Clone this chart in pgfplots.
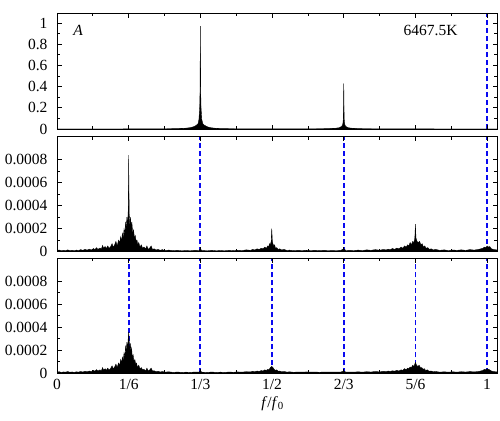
\documentclass[border=0pt]{standalone}
\usepackage{fontspec}
\setmainfont{Liberation Serif}
\usepackage{pgfplots}
\pgfplotsset{compat=1.18}
\definecolor{dblue}{RGB}{10,10,240}
\pgfplotsset{
  panel/.style={
    scale only axis, width=440pt,
    xmin=0, xmax=1.023,
    xtick={0,0.16667,0.33333,0.5,0.66667,0.83333,1},
    minor xtick={0.08333,0.25,0.41667,0.58333,0.75,0.91667},
    xticklabels={},
    minor y tick num=1,
    axis on top=true,
    axis line style={line width=0.9pt},
    every tick/.style={line width=0.7pt, black},
    major tick length=4.5pt, minor tick length=3pt,
    tick label style={font=\fontsize{15.5}{16}\selectfont},
    /pgf/number format/assume math mode=true,
    yticklabel style={xshift=-6pt},
    xticklabel style={yshift=-2pt},
    scaled y ticks=false,
    unbounded coords=jump,
    clip=true,
  },
  vline/.style={draw=dblue, color=dblue, line width=1.75pt, dash pattern=on 5pt off 3pt},
  spec/.style={fill=black, draw=black, line width=0.35pt},
}
\begin{document}
\begin{tikzpicture}
\path (0pt,0pt) rectangle (500pt,-420pt);
% ---------------- top panel
\begin{axis}[panel, at={(57pt,-129pt)}, anchor=south west, height=116pt,
  ymin=0, ymax=1.095, ytick={0,0.2,0.4,0.6,0.8,1},
  yticklabels={0,0.2,0.4,0.6,0.8,1}]
\addplot[vline] coordinates {(1,0) (1,1.095)};
\addplot[spec] coordinates {
(0,0.0002) (0.1,0.0004) (0.2,0.001) (0.25,0.002) (0.28,0.004) (0.3,0.008)
(0.31,0.013) (0.318,0.022) (0.324,0.035) (0.328,0.05) (0.3300,0.09)
(0.3317,0.2) (0.3325,0.35) (0.3333,0.97) (0.3341,0.35) (0.3349,0.2)
(0.3366,0.09) (0.339,0.05) (0.343,0.035) (0.349,0.022) (0.356,0.013)
(0.366,0.008) (0.38,0.004) (0.42,0.002) (0.5,0.001) (0.58,0.0015)
(0.62,0.003) (0.645,0.006) (0.656,0.012) (0.662,0.025) (0.6645,0.045)
(0.6658,0.1) (0.6667,0.43) (0.6676,0.1) (0.6689,0.045) (0.671,0.025)
(0.677,0.012) (0.688,0.006) (0.71,0.003) (0.76,0.0015) (0.85,0.0008)
(1.023,0.0003)} \closedcycle;
\node[font=\fontsize{15.5}{16}\selectfont\itshape] at (rel axis cs:0.048,0.85) {A};
\node[font=\fontsize{15.5}{16}\selectfont] at (rel axis cs:0.849,0.847) {6467.5K};
\end{axis}
% ---------------- middle panel
\begin{axis}[panel, at={(57pt,-251.7pt)}, anchor=south west, height=115pt,
  ymin=0, ymax=0.001, ytick={0,0.0002,0.0004,0.0006,0.0008},
  yticklabels={0,0.0002,0.0004,0.0006,0.0008}]
\addplot[vline] coordinates {(0.33333,0) (0.33333,0.001) (0.5,nan)
  (0.66667,0) (0.66667,0.001) (0.8,nan) (1,0) (1,0.001)};
\addplot[spec] coordinates {
(0,0.00001) (0.005,0.000015) (0.01,0.000008) (0.015,0.000012) (0.02,0.00001)
(0.025,0.000016) (0.03,0.000009) (0.035,0.000013) (0.04,0.000008) (0.045,0.000014)
(0.05,0.00001) (0.055,0.000018) (0.06,0.000012) (0.065,0.00002) (0.07,0.000014)
(0.075,0.000022) (0.08,0.000015) (0.085,0.000028) (0.088,0.000018) (0.092,0.000035)
(0.095,0.00002) (0.1,0.000032) (0.103,0.000022) (0.106,0.000055) (0.108,0.00003)
(0.112,0.000045) (0.115,0.000028) (0.118,0.00005) (0.121,0.00003) (0.124,0.00004)
(0.128,0.00007) (0.131,0.00004) (0.134,0.00006) (0.137,0.00009) (0.14,0.00005)
(0.143,0.0001) (0.146,0.00008) (0.148,0.00013) (0.150,0.00009) (0.152,0.00016)
(0.154,0.00012) (0.156,0.0002) (0.158,0.00015) (0.1595,0.00026) (0.161,0.0002)
(0.1625,0.0003) (0.164,0.00022) (0.1655,0.00035) (0.1663,0.0006) (0.1667,0.00084)
(0.1671,0.0006) (0.168,0.00032) (0.1695,0.00022) (0.171,0.0003) (0.1725,0.0002)
(0.174,0.00026) (0.176,0.00016) (0.178,0.00019) (0.18,0.00012) (0.182,0.00014)
(0.184,0.00009) (0.186,0.0001) (0.188,0.00006) (0.19,0.00008) (0.193,0.00004)
(0.196,0.00006) (0.199,0.00003) (0.202,0.00004) (0.206,0.000025) (0.209,0.00005)
(0.212,0.00002) (0.215,0.00003) (0.219,0.00005) (0.222,0.00002) (0.226,0.000025)
(0.23,0.000015) (0.235,0.00002) (0.24,0.000012) (0.245,0.000018) (0.25,0.00001)
(0.26,0.000014) (0.27,0.000009) (0.28,0.000012) (0.29,0.000008) (0.3,0.00001)
(0.31,0.000008) (0.32,0.000012) (0.33,0.00001) (0.3333,0.000025) (0.337,0.00001)
(0.35,0.000008) (0.36,0.000012) (0.37,0.000008) (0.38,0.00001) (0.39,0.000008)
(0.4,0.000012) (0.41,0.000009) (0.42,0.000013) (0.43,0.00001) (0.44,0.000016)
(0.45,0.000012) (0.455,0.00002) (0.46,0.000015) (0.465,0.000025) (0.47,0.00002)
(0.475,0.00003) (0.479,0.000025) (0.483,0.00004) (0.487,0.00003) (0.49,0.00005)
(0.492,0.00004) (0.494,0.00007) (0.496,0.00006) (0.498,0.00009) (0.4993,0.0002)
(0.5007,0.00009) (0.502,0.00007) (0.504,0.00005) (0.506,0.00006) (0.508,0.00003)
(0.511,0.000035) (0.514,0.00002) (0.518,0.000025) (0.522,0.000015) (0.528,0.00002)
(0.535,0.00001) (0.54,0.000014) (0.55,0.000009) (0.56,0.000012) (0.57,0.00001)
(0.58,0.000013) (0.59,0.00001) (0.6,0.000012) (0.61,0.000009) (0.62,0.000012)
(0.63,0.00001) (0.64,0.000011) (0.65,0.00001) (0.66,0.000012) (0.6667,0.000025)
(0.672,0.00001) (0.68,0.000012) (0.69,0.00001) (0.7,0.000014) (0.71,0.00001)
(0.72,0.000016) (0.73,0.000012) (0.74,0.000018) (0.75,0.000013) (0.76,0.00002)
(0.765,0.000015) (0.77,0.000022) (0.775,0.000018) (0.78,0.000028) (0.785,0.00002)
(0.79,0.000032) (0.795,0.000025) (0.8,0.00004) (0.804,0.00003) (0.808,0.00005)
(0.812,0.00004) (0.815,0.00006) (0.818,0.00005) (0.821,0.00008) (0.824,0.00006)
(0.827,0.00009) (0.83,0.00008) (0.832,0.00012) (0.8333,0.00024) (0.8346,0.00012)
(0.837,0.00009) (0.84,0.00008) (0.843,0.00009) (0.846,0.00006) (0.849,0.00007)
(0.852,0.00004) (0.855,0.00005) (0.858,0.00003) (0.862,0.000035) (0.866,0.00002)
(0.87,0.000025) (0.875,0.000015) (0.88,0.00002) (0.89,0.000012) (0.9,0.000016)
(0.91,0.00001) (0.92,0.000015) (0.93,0.000012) (0.94,0.000016) (0.95,0.000012)
(0.96,0.000018) (0.97,0.000014) (0.98,0.00002) (0.985,0.000025) (0.99,0.00003)
(0.994,0.00004) (0.997,0.000035) (1.0,0.00005) (1.003,0.00004) (1.006,0.000045)
(1.01,0.000025) (1.015,0.00002) (1.023,0.000015)} \closedcycle;
\end{axis}
% ---------------- bottom panel
\begin{axis}[panel, at={(57pt,-373.3pt)}, anchor=south west, height=115pt,
  ymin=0, ymax=0.001, ytick={0,0.0002,0.0004,0.0006,0.0008},
  yticklabels={0,0.0002,0.0004,0.0006,0.0008},
  xticklabels={0,1/6,1/3,1/2,2/3,5/6,1},
  xlabel={\textit{f}/\textit{f}\textsubscript{0}},
  xlabel style={at={(rel axis cs:0.49,0)}, anchor=center, yshift=-30pt,
    font=\fontsize{15.5}{16}\selectfont}]
\addplot[vline] coordinates {(0.16667,0) (0.16667,0.001) (0.2,nan)
  (0.33333,0) (0.33333,0.001) (0.4,nan) (0.5,0) (0.5,0.001) (0.6,nan)
  (0.66667,0) (0.66667,0.001) (0.7,nan) (0.83333,0) (0.83333,0.001) (0.9,nan)
  (1,0) (1,0.001)};
\addplot[spec] coordinates {
(0,0.00001) (0.005,0.000014) (0.01,0.000008) (0.015,0.000012) (0.02,0.00001)
(0.025,0.000015) (0.03,0.000009) (0.035,0.000012) (0.04,0.000008) (0.045,0.000013)
(0.05,0.00001) (0.055,0.000016) (0.06,0.000011) (0.065,0.000018) (0.07,0.000013)
(0.075,0.00002) (0.08,0.000014) (0.085,0.000026) (0.088,0.000017) (0.092,0.000032)
(0.095,0.00002) (0.1,0.00003) (0.103,0.00002) (0.106,0.00005) (0.108,0.000028)
(0.112,0.00004) (0.115,0.000026) (0.118,0.000045) (0.121,0.000028) (0.124,0.000038)
(0.128,0.000065) (0.131,0.00004) (0.134,0.000055) (0.137,0.00008) (0.14,0.00005)
(0.143,0.00009) (0.146,0.00007) (0.148,0.00012) (0.15,0.00009) (0.152,0.00014)
(0.154,0.00011) (0.156,0.00018) (0.158,0.00014) (0.1595,0.00024) (0.161,0.00019)
(0.1625,0.00027) (0.164,0.00021) (0.1655,0.0003) (0.1667,0.00036) (0.1678,0.00029)
(0.169,0.00021) (0.1705,0.00026) (0.172,0.00018) (0.1735,0.00022) (0.175,0.00014)
(0.177,0.00016) (0.179,0.0001) (0.181,0.00012) (0.183,0.00008) (0.185,0.00009)
(0.187,0.00005) (0.19,0.00007) (0.193,0.00004) (0.196,0.00005) (0.199,0.00003)
(0.202,0.000035) (0.206,0.00002) (0.209,0.000045) (0.212,0.00002) (0.215,0.000028)
(0.219,0.000045) (0.222,0.00002) (0.226,0.000022) (0.23,0.000014) (0.235,0.000018)
(0.24,0.000011) (0.245,0.000016) (0.25,0.00001) (0.26,0.000013) (0.27,0.000008)
(0.28,0.000011) (0.29,0.000008) (0.3,0.00001) (0.31,0.000008) (0.32,0.000011)
(0.33,0.00001) (0.3333,0.00002) (0.337,0.00001) (0.35,0.000008) (0.36,0.000011)
(0.37,0.000008) (0.38,0.00001) (0.39,0.000008) (0.4,0.000011) (0.41,0.000009)
(0.42,0.000012) (0.43,0.00001) (0.44,0.000014) (0.45,0.000012) (0.455,0.000018)
(0.46,0.000013) (0.465,0.00002) (0.47,0.000016) (0.475,0.000024) (0.479,0.00002)
(0.483,0.00003) (0.487,0.000025) (0.49,0.000035) (0.493,0.00003) (0.496,0.00005)
(0.4993,0.00006) (0.502,0.00005) (0.505,0.000035) (0.508,0.000025) (0.511,0.00003)
(0.514,0.000018) (0.518,0.00002) (0.522,0.000013) (0.528,0.000016) (0.535,0.00001)
(0.54,0.000013) (0.55,0.000009) (0.56,0.000011) (0.57,0.00001) (0.58,0.000012)
(0.59,0.00001) (0.6,0.000011) (0.61,0.000009) (0.62,0.000011) (0.63,0.00001)
(0.64,0.000011) (0.65,0.00001) (0.66,0.000011) (0.6667,0.00002) (0.672,0.00001)
(0.68,0.000011) (0.69,0.00001) (0.7,0.000013) (0.71,0.00001) (0.72,0.000014)
(0.73,0.000011) (0.74,0.000016) (0.75,0.000012) (0.76,0.000018) (0.765,0.000014)
(0.77,0.00002) (0.775,0.000016) (0.78,0.000022) (0.785,0.000018) (0.79,0.000026)
(0.795,0.00002) (0.8,0.00003) (0.804,0.000025) (0.808,0.00004) (0.812,0.000032)
(0.815,0.000045) (0.818,0.00004) (0.821,0.000055) (0.824,0.00005) (0.827,0.00007)
(0.83,0.00006) (0.8333,0.000095) (0.836,0.00007) (0.839,0.00006) (0.842,0.00007)
(0.845,0.00005) (0.848,0.00005) (0.851,0.000035) (0.854,0.00004) (0.857,0.000025)
(0.861,0.00003) (0.865,0.000018) (0.87,0.00002) (0.875,0.000013) (0.88,0.000016)
(0.89,0.00001) (0.9,0.000013) (0.91,0.00001) (0.92,0.000013) (0.93,0.00001)
(0.94,0.000014) (0.95,0.000011) (0.96,0.000015) (0.97,0.000012) (0.98,0.000016)
(0.985,0.00002) (0.99,0.000025) (0.994,0.000035) (0.997,0.00003) (1.0,0.00004)
(1.003,0.000035) (1.006,0.00003) (1.01,0.00002) (1.015,0.000015) (1.023,0.000012)} \closedcycle;
\end{axis}
\end{tikzpicture}
\end{document}
